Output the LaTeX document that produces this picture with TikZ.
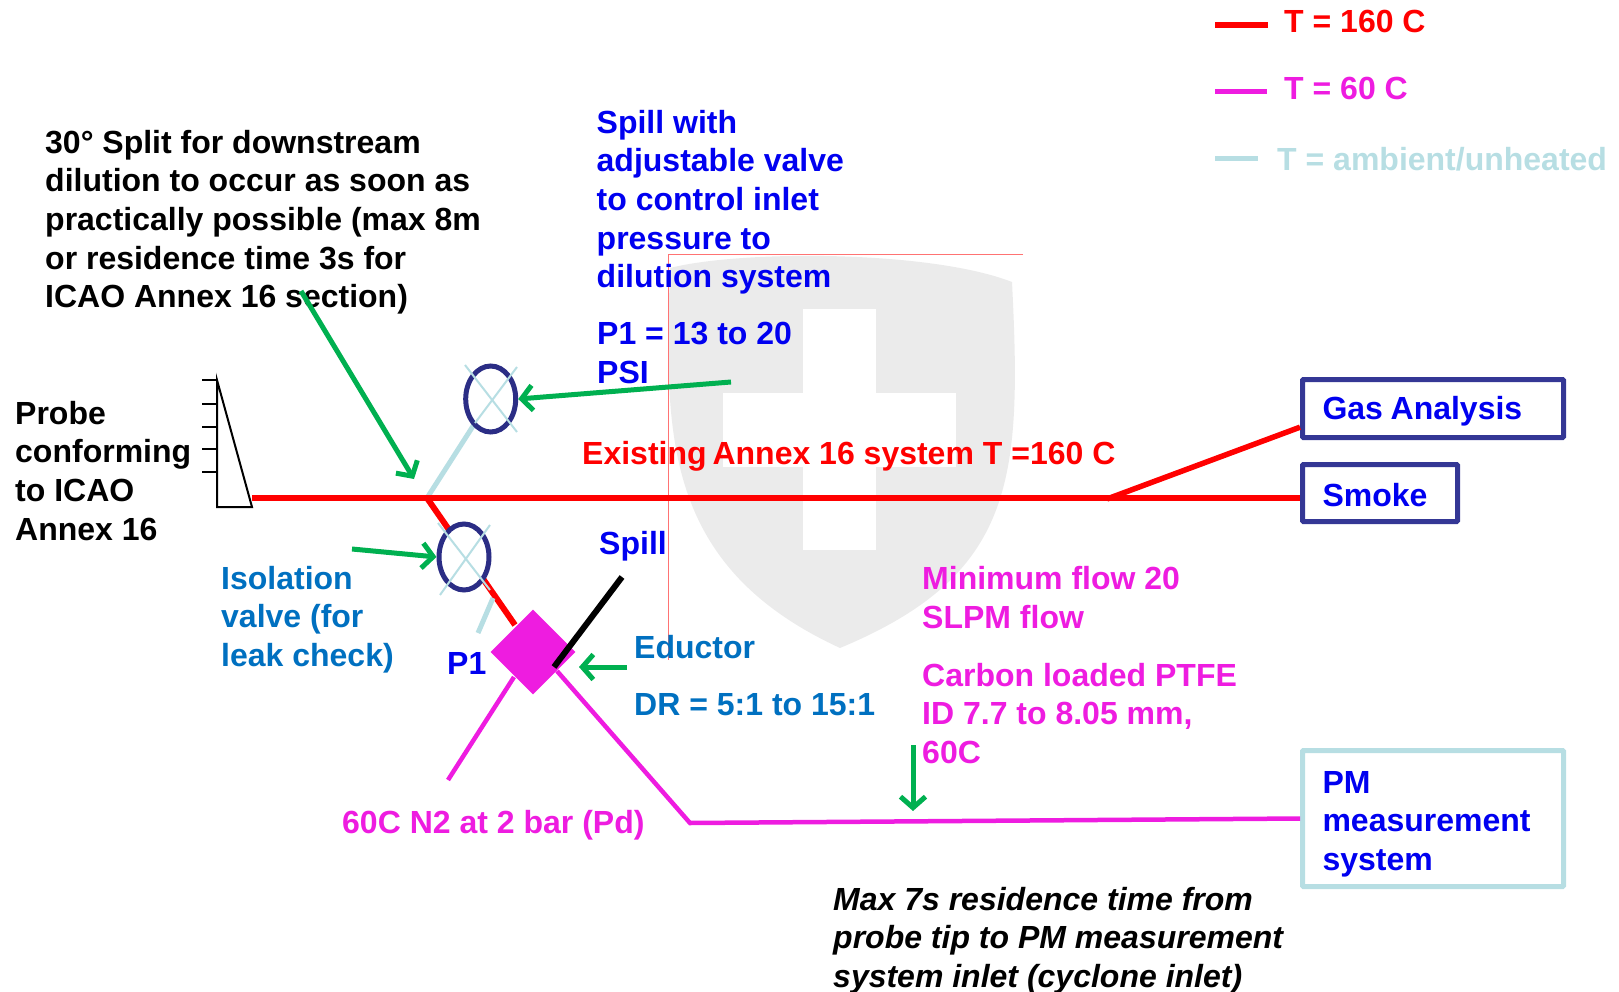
\documentclass[tikz,border=0pt]{standalone}
\usepackage{fontspec}
\setmainfont{Liberation Sans}
\usetikzlibrary{arrows.meta,shapes.geometric}
\definecolor{hotred}{HTML}{FF0000}
\definecolor{warmpink}{HTML}{EE1CE0}
\definecolor{coldblue}{HTML}{B7DEE3}
\definecolor{navyline}{HTML}{2B2D85}
\definecolor{boxnavy}{HTML}{343795}
\definecolor{notegreen}{HTML}{00B050}
\definecolor{noteblue}{HTML}{0070C0}
\definecolor{textblue}{HTML}{0000F0}
\definecolor{shieldgray}{HTML}{EBEBEB}
\tikzset{
  note/.style={anchor=north west,inner sep=0pt,align=left,
    font=\fontsize{32}{38.6}\selectfont\bfseries},
  hotpipe/.style={hotred,line width=6pt},
  warmpipe/.style={warmpink,line width=4.5pt},
  coldpipe/.style={coldblue,line width=5pt},
  thincross/.style={coldblue,line width=2pt},
  pointer/.style={notegreen,line width=5pt,-{Straight Barb[length=11pt,width=25pt,line width=5pt]}},
  valve/.style={ellipse,draw=navyline,fill=white,line width=5pt,minimum width=50pt,minimum height=66pt,inner sep=0pt},
  boxout/.style={draw=boxnavy,line width=5pt,rounded corners=1pt,inner ysep=0pt,inner xsep=20pt,align=left,
    font=\fontsize{32}{38.6}\selectfont\bfseries,text=textblue}
}
\begin{document}
\begin{tikzpicture}[x=1pt, y=-1pt]
  \useasboundingbox (0,0) rectangle (1619,992);

  % Escudo de fondo
  \fill[shieldgray] (670,268) .. controls (740,250) and (930,250) .. (1012,282)
    .. controls (1022,480) and (1015,575) .. (840,648)
    .. controls (660,565) and (665,430) .. (670,268) -- cycle;
  \fill[white] (803,309) rectangle (876,550);
  \fill[white] (723,393) rectangle (956,467);
  \draw[hotred!55,line width=1pt] (1023,255) -- (668,255) -- (668,660);

  % Leyenda
  \draw[hotpipe] (1215,25) -- (1268,25);
  \draw[warmpipe,line width=5pt] (1215,92) -- (1267,92);
  \draw[coldpipe] (1215,159) -- (1258,159);
  \node[note,text=hotred] (legendhot) at (1284,10) {T = 160 C};
  \node[note,text=warmpink] (legendwarm) at (1284,77) {T = 60 C};
  \node[note,text=coldblue] (legendcold) at (1277,147) {T = ambient/unheated};

  % Textos
  \node[note] (splitnote) at (45,130) {30° Split for downstream\\dilution to occur as soon as\\practically possible (max 8m\\or residence time 3s for\\ICAO Annex 16 section)};
  \node[note,text=textblue] (spillnote) at (596.5,110) {Spill with\\adjustable valve\\to control inlet\\pressure to\\dilution system};
  \node[note,text=textblue] (pressnote) at (597,322) {P1 = 13 to 20\\PSI};
  \node[note] (probenote) at (15,401) {Probe\\conforming\\to ICAO\\Annex 16};
  \node[note,text=hotred] (existnote) at (582,441) {Existing\kern-3pt{} Annex 16 system T =160 C};
  \node[note,text=noteblue] (isonote) at (221,566) {Isolation\\valve (for\\leak check)};
  \node[note,text=textblue] (ponenote) at (447,652) {P1};
  \node[note,text=textblue] (spilllabel) at (599,531) {Spill};
  \node[note,text=noteblue] (eductnote) at (634,635) {Eductor};
  \node[note,text=noteblue] (drnote) at (634,693) {DR = 5:1 to 15:1};
  \node[note,text=warmpink] (flownote) at (922,566.5) {Minimum flow 20\\SLPM flow};
  \node[note,text=warmpink] (ptfenote) at (922,663) {Carbon loaded PTFE\\ID 7.7 to 8.05 mm,\\60C};
  \node[note,text=warmpink] (nitronote) at (342,810) {60C N2 at 2 bar (Pd)};
  \node[note,font=\fontsize{32}{38.6}\selectfont\bfseries\itshape] (timenote) at (833,887) {Max 7s residence time from\\probe tip to PM measurement\\system inlet (cyclone inlet)};

  % Cajas de salida
  \node[boxout,text width=221pt,minimum height=58pt,text height=29pt,text depth=7pt] (gas) at (1433,408.5) {Gas\kern-3pt{} Analysis};
  \node[boxout,text width=115pt,minimum height=57pt,text height=27pt,text depth=1pt] (smoke) at (1380,493) {Smoke};
  \node[boxout,draw=coldblue,text width=221pt,minimum height=136pt] (pm) at (1433,818.5) {\rule{0pt}{33pt}PM\\measurement\\system};

  % Sonda
  \coordinate (probetip) at (252,498);
  \draw[line width=2pt] (217,380) -- (252,507) -- (217,507) -- cycle;
  \foreach \ypos in {380,404,427,449,472} {
    \draw[line width=2pt] (202,\ypos) -- (217,\ypos);
  }

  % Linea principal y ramales
  \coordinate (junction) at (427,498);
  \coordinate (branch) at (1107,499);
  \coordinate (coldend) at (517,367);
  \node[diamond,fill=warmpink,aspect=1,minimum width=85pt,minimum height=85pt,inner sep=0pt] (eductor) at (533,652) {};
  \draw[hotpipe] (junction) -- (515,625);
  \draw[coldpipe] (junction) -- (475,423);
  \draw[hotpipe] (probetip) -- (probetip -| smoke.west);
  \draw[hotpipe,line width=5.5pt] (branch) -- (gas.188);

  % Valvulas
  \node[valve] (spillvalve) at (490.7,399) {};
  \node[valve] (isovalve) at (464,557) {};
  \draw[thincross] (465,365) -- (517,432);
  \draw[thincross] (475,423) -- (coldend);
  \draw[thincross] (438,523) -- (490,590);
  \draw[thincross] (490,525) -- (440,595);

  % Tomas del eductor
  \coordinate (ptap) at (478,633);
  \coordinate (nitroend) at (448,780);
  \coordinate (bendpm) at (690,823);
  \coordinate (spillend) at (622,577);
  \draw[coldpipe] (493,598) -- (ptap);
  \draw[warmpipe] (514,677) -- (nitroend);
  \draw[warmpipe] (557,671) -- (bendpm) -- (pm.west);
  \draw[black,line width=6pt] (spillend) -- (554,667);

  % Flechas
  \draw[pointer] (301,291) -- (414,479);
  \draw[pointer] (731,382) -- (spillvalve.east);
  \draw[pointer] (352,549) -- (isovalve.west);
  \draw[pointer] (627,667) -- (579,667);
  \draw[pointer] (913,745) -- (913,811);
\end{tikzpicture}
\end{document}
